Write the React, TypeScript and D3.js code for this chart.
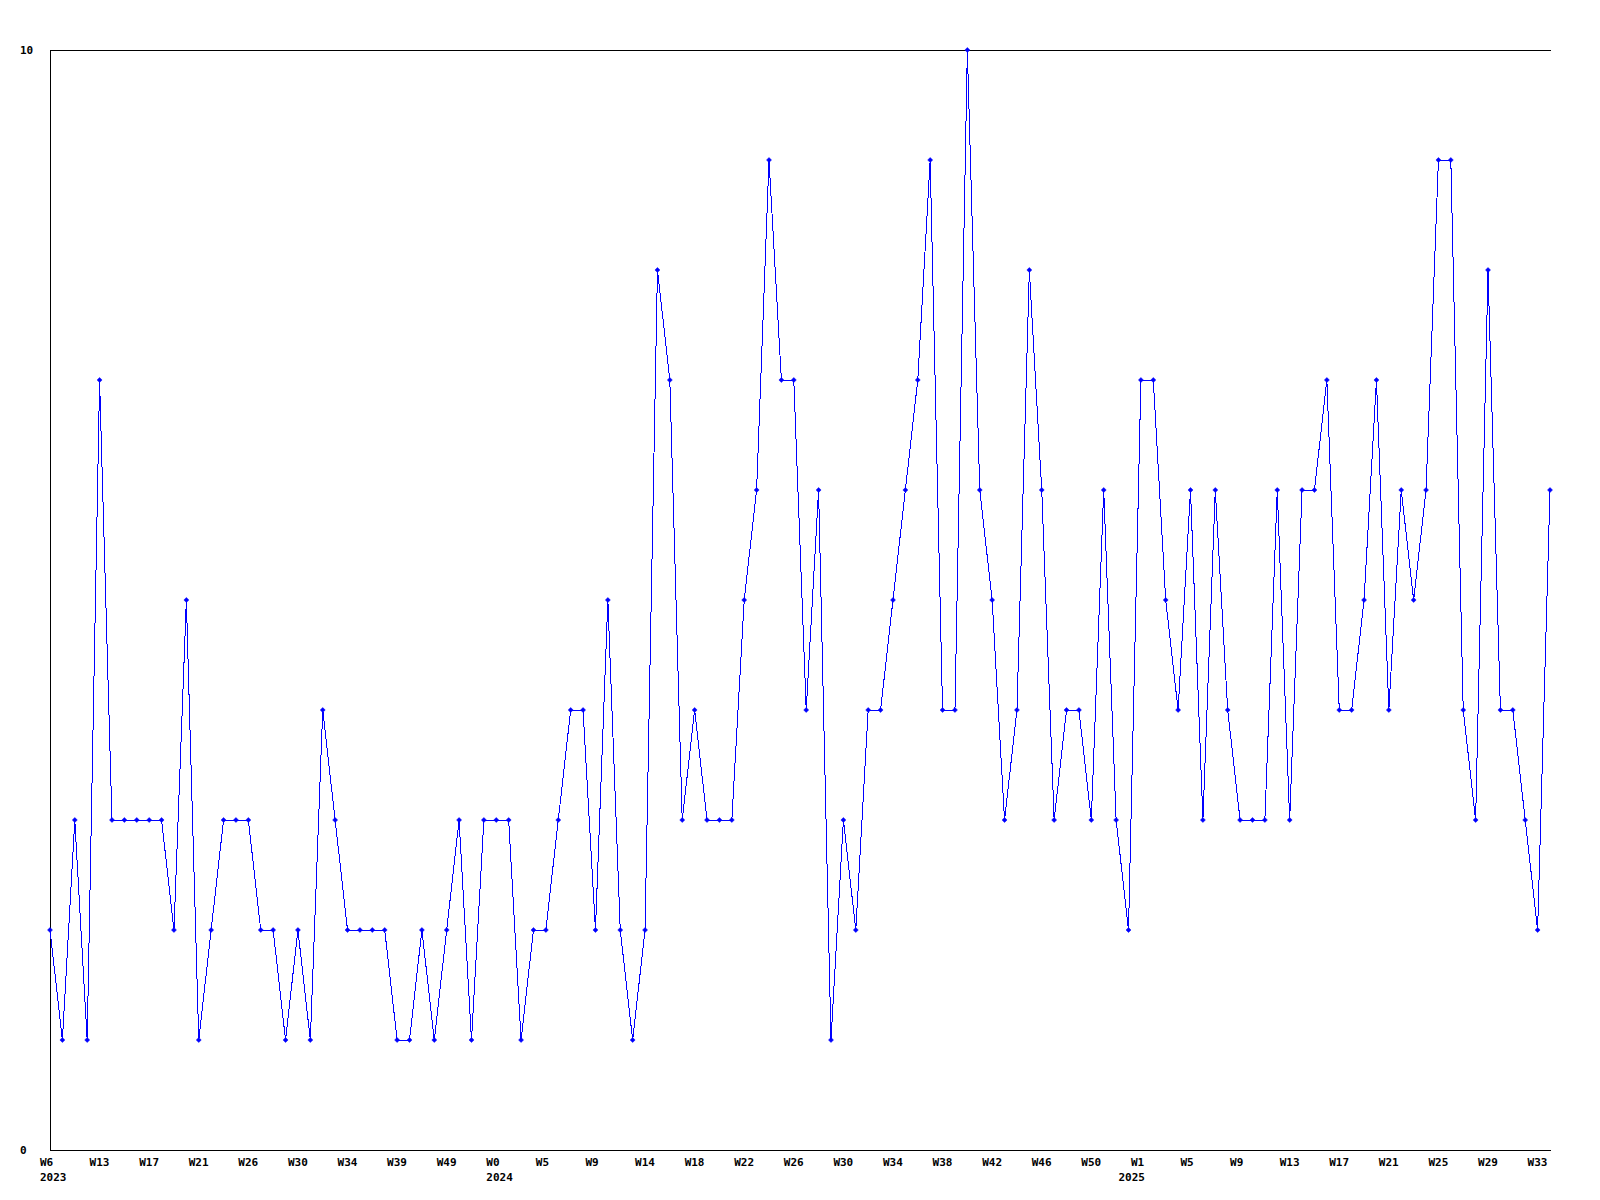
import React from "react";
import * as d3 from "d3";

const values: number[] = [
  2, 1, 3, 1, 7, 3, 3, 3, 3, 3, 2, 5, 1, 2, 3, 3, 3, 2, 2, 1,
  2, 1, 4, 3, 2, 2, 2, 2, 1, 1, 2, 1, 2, 3, 1, 3, 3, 3, 1, 2,
  2, 3, 4, 4, 2, 5, 2, 1, 2, 8, 7, 3, 4, 3, 3, 3, 5, 6, 9, 7,
  7, 4, 6, 1, 3, 2, 4, 4, 5, 6, 7, 9, 4, 4, 10, 6, 5, 3, 4, 8,
  6, 3, 4, 4, 3, 6, 3, 2, 7, 7, 5, 4, 6, 3, 6, 4, 3, 3, 3, 6,
  3, 6, 6, 7, 4, 4, 5, 7, 4, 6, 5, 6, 9, 9, 4, 3, 8, 4, 4, 3,
  2, 6,
];

const weekLabels: string[] = [
  "W6", "W13", "W17", "W21", "W26", "W30", "W34", "W39", "W49", "W0",
  "W5", "W9", "W14", "W18", "W22", "W26", "W30", "W34", "W38", "W42",
  "W46", "W50", "W1", "W5", "W9", "W13", "W17", "W21", "W25", "W29", "W33",
];
const labelStep = 4;

const yearLabels: string[] = ["2023", "2024", "2025"];
const yearIndices: number[] = [0, 36, 87];

const yTickValues: number[] = [0, 10];

export default function App() {
  const width = 1600;
  const height = 1200;
  const left = 50;
  const right = 1550;
  const top = 50;
  const bottom = 1150;

  const x = d3.scaleLinear().domain([0, values.length - 1]).range([left, right]);
  const y = d3.scaleLinear().domain([0, 10]).range([bottom, top]);

  const line = d3
    .line<number>()
    .x((_, i) => x(i))
    .y((d) => y(d));

  const font = "'DejaVu Sans Mono', monospace";

  return (
    <svg
      width={width}
      height={height}
      style={{ position: "absolute", left: 0, top: 0, background: "#fff" }}
    >
      <rect x={0} y={0} width={width} height={height} fill="#fff" />
      {/* frame: left, top, bottom */}
      <line x1={left + 0.5} y1={top} x2={left + 0.5} y2={bottom + 1} stroke="#000" strokeWidth={1} />
      <line x1={left} y1={top + 0.5} x2={right + 1} y2={top + 0.5} stroke="#000" strokeWidth={1} />
      <line x1={left} y1={bottom + 0.5} x2={right + 1} y2={bottom + 0.5} stroke="#000" strokeWidth={1} />

      {yTickValues.map((v) => (
        <text
          key={"y" + v}
          x={20}
          y={y(v) + 4}
          fontFamily={font}
          fontWeight="bold"
          fontSize={11}
          fill="#000"
        >
          {v}
        </text>
      ))}

      {weekLabels.map((lab, k) => (
        <text
          key={"w" + k}
          x={x(k * labelStep) - 10}
          y={1165.5}
          fontFamily={font}
          fontWeight="bold"
          fontSize={11}
          fill="#000"
        >
          {lab}
        </text>
      ))}

      {yearLabels.map((lab, k) => (
        <text
          key={"yr" + k}
          x={x(yearIndices[k]) - 10}
          y={1181}
          fontFamily={font}
          fontWeight="bold"
          fontSize={11}
          fill="#000"
        >
          {lab}
        </text>
      ))}

      <path
        d={line(values) || ""}
        fill="none"
        stroke="#0000ff"
        strokeWidth={1}
        shapeRendering="crispEdges"
      />
      {values.map((v, i) => {
        const cx = x(i);
        const cy = y(v);
        return (
          <path
            key={"m" + i}
            d={`M${cx},${cy - 2.5}L${cx + 2.5},${cy}L${cx},${cy + 2.5}L${cx - 2.5},${cy}Z`}
            fill="#0000ff"
            stroke="#0000ff"
            strokeWidth={0.5}
          />
        );
      })}
    </svg>
  );
}
